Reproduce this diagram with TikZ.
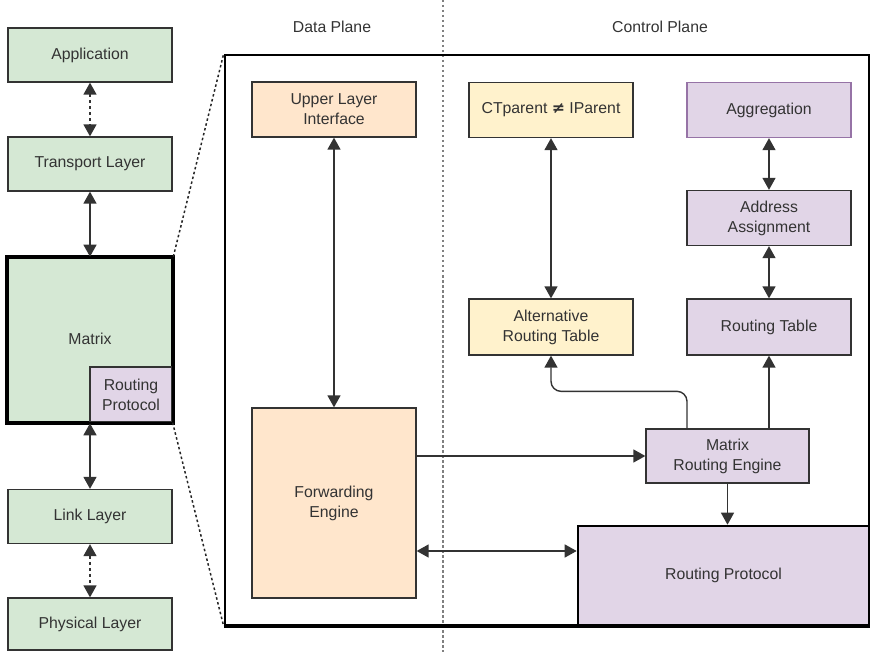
\documentclass[tikz,border=0pt]{standalone}
\usepackage{fontspec}
\setmainfont{Liberation Sans}
\usetikzlibrary{arrows.meta,calc}
\definecolor{txt}{HTML}{333333}
\definecolor{edge}{HTML}{333333}
\definecolor{gfill}{HTML}{D5E8D4}
\definecolor{ofill}{HTML}{FFE6CC}
\definecolor{yfill}{HTML}{FFF2CC}
\definecolor{pfill}{HTML}{E1D5E7}
\definecolor{pedge}{HTML}{9673A6}
\begin{document}
\begin{tikzpicture}[x=1pt,y=-1pt,
  font=\fontsize{15.8}{20}\selectfont, text=txt,
  box/.style={draw=edge, line width=1.3pt, align=center, inner sep=0pt, text=txt},
  gbox/.style={box, fill=gfill, minimum width=164pt, minimum height=54pt},
  obox/.style={box, fill=ofill},
  ybox/.style={box, fill=yfill, minimum width=164pt, minimum height=55pt},
  pbox/.style={box, fill=pfill, minimum width=164pt, minimum height=55pt},
  thick box/.style={draw=black, line width=2.6pt},
  tip/.tip={Triangle[width=13pt,length=12pt]},
  arr/.style={draw=edge, line width=1.4pt, -tip},
  biarr/.style={draw=edge, line width=1.4pt, tip-tip},
  dashedarr/.style={biarr, dash pattern=on 3pt off 3pt},
  zoomline/.style={draw=black!85, line width=1.5pt, dash pattern=on 2.5pt off 2.5pt},
  divider/.style={draw=gray, line width=1.4pt, dash pattern=on 2.5pt off 2.5pt}
]
\useasboundingbox (0,0) rectangle (872,652);

% divider and headings
\draw[divider] (443,0) -- (443,652);
\node (dp) at (332,27) {Data Plane};
\node (cp) at (660,27) {Control Plane};

% left stack
\node[gbox] (app) at (90,55) {Application};
\node[gbox] (tl) at (90,164) {Transport Layer};
\node[gbox, thick box, minimum height=164pt] (mx) at (90,340) {};
\node (mxl) at (90,339) {Matrix};
\node[pbox, minimum width=82pt, minimum height=55pt] (rps) at (131,394.5) {Routing\\Protocol};
\draw[black, line width=2.6pt] (mx.north west) rectangle (mx.south east);
\node[gbox] (ll) at (90,516.5) {Link Layer};
\node[gbox, minimum height=52pt] (pl) at (90,624) {Physical Layer};

\draw[dashedarr] (app.south) -- (tl.north);
\draw[biarr] (tl.south) -- (mx.north);
\draw[biarr] (mx.south) -- (ll.north);
\draw[dashedarr] (ll.south) -- (pl.north);

% frame
\node[draw=black, line width=2.6pt, minimum width=644pt, minimum height=570pt, inner sep=0pt] (frame) at (547,340) {};
\draw[zoomline] (mx.north east) -- (frame.north west);
\draw[zoomline] (rps.south east) -- (frame.south west);

% data plane
\node[obox, minimum width=164pt, minimum height=55pt] (uli) at (334,109.5) {Upper Layer\\Interface};
\node[obox, minimum width=164pt, minimum height=190pt] (fe) at (334,503) {Forwarding\\Engine};
\draw[biarr] (uli.south) -- (fe.north);

% control plane
\node[ybox] (ct) at (551,110) {CTparent {\fontspec{DejaVu Sans}\bfseries ≠} IParent};
\node[ybox, minimum height=56pt] (art) at (551,327) {Alternative\\Routing Table};
\node[pbox, draw=pedge] (agg) at (769,110) {Aggregation};
\node[pbox] (aa) at (769,218) {Address\\Assignment};
\node[pbox, minimum height=56pt] (rt) at (769,327) {Routing Table};
\node[pbox, minimum width=163pt, minimum height=54pt] (mre) at (727.5,456) {Matrix\\Routing Engine};
\node[box, fill=pfill, thick box, minimum width=291pt, minimum height=99pt] (rp) at (723.5,575.5) {Routing Protocol};
\draw[black, line width=2.6pt] (frame.south west) -- (frame.south east);

\draw[biarr] (ct.south) -- (art.north);
\draw[biarr] (agg.south) -- (aa.north);
\draw[biarr] (aa.south) -- (rt.north);
\draw[arr] (rt.south |- mre.north) -- (rt.south);
\draw[arr, rounded corners=10pt] ([xshift=-40.5pt]mre.north) -- ++(0,-37) -| (art.south);
\draw[arr] (fe.east |- mre.west) -- (mre.west);
\draw[biarr] ([yshift=24.5pt]rp.west -| fe.east) -- ([yshift=24.5pt]rp.west);
\draw[arr] (mre.south) -- (mre.south |- rp.north);
\end{tikzpicture}
\end{document}
